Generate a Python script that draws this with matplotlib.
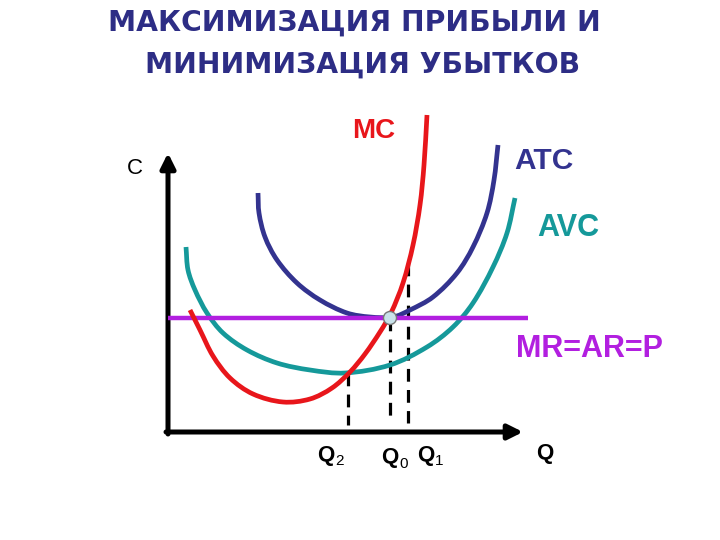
import matplotlib
matplotlib.use("Agg")
import matplotlib.pyplot as plt
import numpy as np
from matplotlib.path import Path
from matplotlib.patches import PathPatch, Circle

# ---- data (chart space: x = quantity, y = cost, screen-like units) ----
mc_x = [190, 200, 213, 230, 253, 283, 310, 332, 350, 365, 380, 391, 403, 413, 420, 424, 427]
mc_y = [310, 330, 356, 378, 394, 402, 399, 388, 372, 354, 332, 313, 283, 245, 205, 165, 115]

atc_x = [258, 259, 265, 277, 297, 320, 347, 370, 393, 410, 433, 457, 473, 487, 494, 498]
atc_y = [193, 213, 237, 260, 283, 300, 313, 317, 317, 310, 297, 273, 247, 213, 180, 145]

avc_x = [186, 188, 195, 207, 223, 247, 277, 310, 345, 390, 427, 453, 473, 493, 507, 515]
avc_y = [247, 270, 290, 313, 333, 350, 363, 370, 373, 365, 347, 327, 303, 267, 233, 198]

price = 318
price_x = [168, 528]

q_names = ["2", "0", "1"]
q_pos = [348, 390, 408]
q_top = [373, 318, 263]
q_bottom = [425, 420, 423]

title_lines = ["МАКСИМИЗАЦИЯ ПРИБЫЛИ И", "МИНИМИЗАЦИЯ УБЫТКОВ"]

RED = "#E8161B"
BLUE = "#33338F"
TEAL = "#15999A"
PURPLE = "#B21FE0"
NAVY = "#2D2D85"
FONT = "Liberation Sans"

fig = plt.figure(figsize=(7.2, 5.4), dpi=100)
ax = fig.add_axes([0, 0, 1, 1])
ax.set_xlim(0, 720)
ax.set_ylim(540, 0)
ax.axis("off")


def smooth_path(xs, ys):
    P = np.column_stack([xs, ys]).astype(float)
    n = len(P)
    seg = np.linalg.norm(np.diff(P, axis=0), axis=1)
    t = np.concatenate([[0], np.cumsum(seg)])
    m = np.zeros_like(P)
    m[0] = (P[1] - P[0]) / (t[1] - t[0])
    m[-1] = (P[-1] - P[-2]) / (t[-1] - t[-2])
    for i in range(1, n - 1):
        m[i] = (P[i + 1] - P[i - 1]) / (t[i + 1] - t[i - 1])
    verts = [P[0]]
    codes = [Path.MOVETO]
    for i in range(n - 1):
        h = t[i + 1] - t[i]
        verts += [P[i] + m[i] * h / 3.0, P[i + 1] - m[i + 1] * h / 3.0, P[i + 1]]
        codes += [Path.CURVE4] * 3
    return Path(verts, codes)


def draw_curve(xs, ys, color, lw=3.4, z=3):
    ax.add_patch(PathPatch(smooth_path(xs, ys), fill=False, edgecolor=color,
                           lw=lw, capstyle="butt", joinstyle="round", zorder=z))

# axes arrows
ax.annotate("", xy=(168, 153), xytext=(168, 434),
            arrowprops=dict(arrowstyle="-|>", lw=3.6, color="black",
                            mutation_scale=22, shrinkA=0, shrinkB=0), zorder=2)
ax.annotate("", xy=(523, 432), xytext=(166, 432),
            arrowprops=dict(arrowstyle="-|>", lw=3.6, color="black",
                            mutation_scale=22, shrinkA=0, shrinkB=0), zorder=2)

# dashed guide lines
for qp, qt, qb in zip(q_pos, q_top, q_bottom):
    ax.plot([qp, qp], [qt, qb], color="black", lw=2.3, ls=(0, (4, 2.6)), zorder=2)

# curves
draw_curve(avc_x, avc_y, TEAL, z=3)
draw_curve(atc_x, atc_y, BLUE, z=3)
ax.plot(price_x, [price, price], color=PURPLE, lw=3.2, solid_capstyle="butt", zorder=4)
draw_curve(mc_x, mc_y, RED, z=5)

# equilibrium point
ax.add_patch(Circle((q_pos[1], price), 6.5, facecolor="#C9E2EA", edgecolor="#777777",
                    lw=1.0, zorder=6))

# labels
ax.text(354, 23, title_lines[0], ha="center", va="center", fontsize=20.3,
        fontweight="bold", color=NAVY, family="DejaVu Sans")
ax.text(363, 65, title_lines[1], ha="center", va="center", fontsize=20.3,
        fontweight="bold", color=NAVY, family="DejaVu Sans")

ax.text(374, 131, "MC", ha="center", va="center", fontsize=20, fontweight="bold",
        color=RED, family=FONT)
ax.text(544, 161, "ATC", ha="center", va="center", fontsize=21.5, fontweight="bold",
        color=BLUE, family=FONT)
ax.text(568, 228, "AVC", ha="center", va="center", fontsize=22, fontweight="bold",
        color=TEAL, family=FONT)
ax.text(589, 349, "MR=AR=P", ha="center", va="center", fontsize=22, fontweight="bold",
        color=PURPLE, family=FONT)
ax.text(135, 169, "C", ha="center", va="center", fontsize=16, color="black", family=FONT)

# Q labels
q_label_x = [326, 390, 426]
q_label_y = [455, 458, 455]
for name, lx, ly in zip(q_names, q_label_x, q_label_y):
    ax.text(lx, ly, "Q", ha="center", va="center", fontsize=16, fontweight="bold",
            color="black", family=FONT)
    ax.text(lx + 9, ly + 6, name, ha="left", va="center", fontsize=11,
            color="black", family=FONT)
ax.text(545, 454, "Q", ha="center", va="center", fontsize=16, fontweight="bold",
        color="black", family=FONT)

fig.savefig("out.png", dpi=100, facecolor="white")
